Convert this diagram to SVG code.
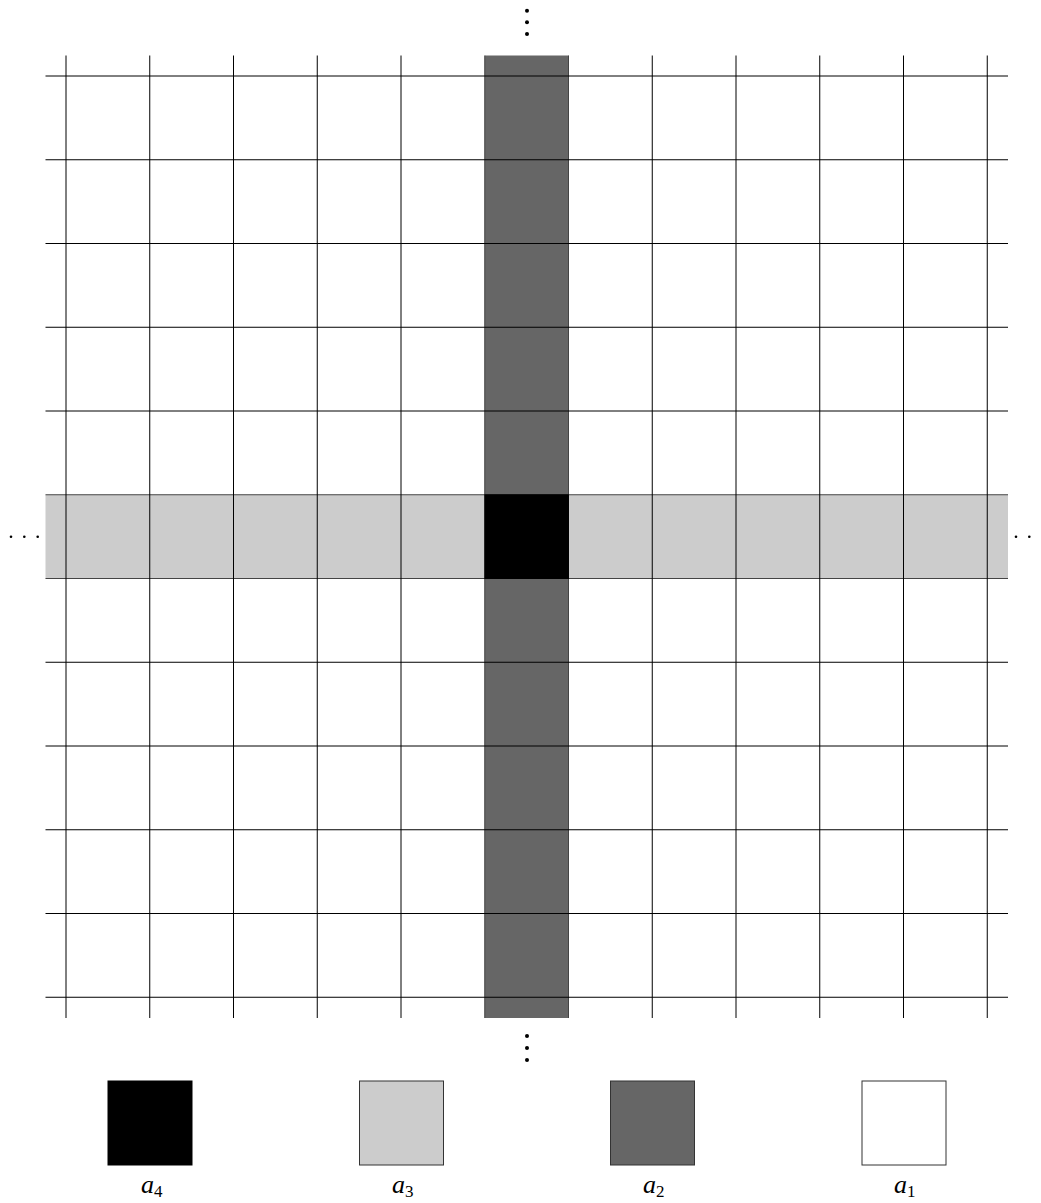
<svg xmlns="http://www.w3.org/2000/svg" width="1041" height="1203" viewBox="0 0 1041 1203">
<style>
.grid line{stroke:#000;stroke-width:1}
.edge{stroke:#444;stroke-width:1}
.fdk{fill:#666666}
.flt{fill:#cccccc}
.dk{fill:#666666;stroke:#333;stroke-width:1}
.lt{fill:#cccccc;stroke:#333;stroke-width:1}
.bk{fill:#000;stroke:#000;stroke-width:1}
.wh{fill:#fff;stroke:#333;stroke-width:1}
.lbl{font-family:"Liberation Serif",serif;font-style:italic;font-size:26px;fill:#000}
.sub{font-style:normal;font-size:17px}
.dot{fill:#000}
</style>
<rect width="1041" height="1203" fill="#fff"/>
<g id="column">
<rect class="fdk" x="484.75" y="55.5" width="83.75" height="962.5"/>
<line class="edge" x1="484.75" y1="55.5" x2="484.75" y2="1018"/>
<line class="edge" x1="568.5" y1="55.5" x2="568.5" y2="1018"/>
</g>
<g id="band">
<rect class="flt" x="45.5" y="494.75" width="962.5" height="83.75"/>
<line class="edge" x1="45.5" y1="494.75" x2="1008" y2="494.75"/>
<line class="edge" x1="45.5" y1="578.5" x2="1008" y2="578.5"/>
</g>
<g id="cell">
<rect class="bk" x="484.75" y="494.75" width="83.75" height="83.75"/>
</g>
<g id="grid" class="grid">
<line x1="66" y1="55.5" x2="66" y2="1018"/>
<line x1="149.75" y1="55.5" x2="149.75" y2="1018"/>
<line x1="233.5" y1="55.5" x2="233.5" y2="1018"/>
<line x1="317.25" y1="55.5" x2="317.25" y2="1018"/>
<line x1="401" y1="55.5" x2="401" y2="1018"/>
<line x1="652.25" y1="55.5" x2="652.25" y2="1018"/>
<line x1="736" y1="55.5" x2="736" y2="1018"/>
<line x1="819.75" y1="55.5" x2="819.75" y2="1018"/>
<line x1="903.5" y1="55.5" x2="903.5" y2="1018"/>
<line x1="987.25" y1="55.5" x2="987.25" y2="1018"/>
<line x1="45.5" y1="76" x2="1008" y2="76"/>
<line x1="45.5" y1="159.75" x2="1008" y2="159.75"/>
<line x1="45.5" y1="243.5" x2="1008" y2="243.5"/>
<line x1="45.5" y1="327.25" x2="1008" y2="327.25"/>
<line x1="45.5" y1="411" x2="1008" y2="411"/>
<line x1="45.5" y1="662.25" x2="1008" y2="662.25"/>
<line x1="45.5" y1="746" x2="1008" y2="746"/>
<line x1="45.5" y1="829.75" x2="1008" y2="829.75"/>
<line x1="45.5" y1="913.5" x2="1008" y2="913.5"/>
<line x1="45.5" y1="997.25" x2="1008" y2="997.25"/>
</g>
<g id="dots">
<circle class="dot" cx="527" cy="10.7" r="2"/>
<circle class="dot" cx="527" cy="22.3" r="2"/>
<circle class="dot" cx="527" cy="34" r="2"/>
<circle class="dot" cx="527" cy="1036" r="2"/>
<circle class="dot" cx="527" cy="1048" r="2"/>
<circle class="dot" cx="527" cy="1060" r="2"/>
<circle class="dot" cx="11" cy="536.7" r="1.3"/>
<circle class="dot" cx="24.3" cy="536.7" r="1.3"/>
<circle class="dot" cx="37.7" cy="536.7" r="1.3"/>
<circle class="dot" cx="1016" cy="536.7" r="1.3"/>
<circle class="dot" cx="1029.3" cy="536.7" r="1.3"/>
<circle class="dot" cx="1042.7" cy="536.7" r="1.3"/>
</g>
<g id="legend-a4">
<rect class="bk" x="108" y="1081" width="84" height="84"/>
<text class="lbl" x="141" y="1193">a<tspan class="sub" dy="4">4</tspan></text>
</g>
<g id="legend-a3">
<rect class="lt" x="359.5" y="1081" width="84" height="84"/>
<text class="lbl" x="392" y="1193">a<tspan class="sub" dy="4">3</tspan></text>
</g>
<g id="legend-a2">
<rect class="dk" x="610.5" y="1081" width="84" height="84"/>
<text class="lbl" x="643" y="1193">a<tspan class="sub" dy="4">2</tspan></text>
</g>
<g id="legend-a1">
<rect class="wh" x="862" y="1081" width="84" height="84"/>
<text class="lbl" x="894" y="1193">a<tspan class="sub" dy="4">1</tspan></text>
</g>
</svg>
